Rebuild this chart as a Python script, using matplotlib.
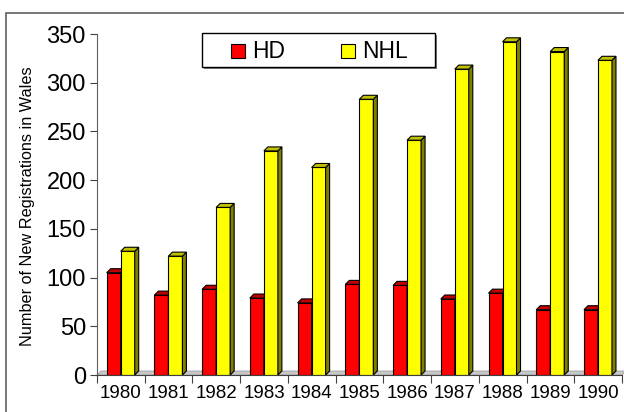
import matplotlib.pyplot as plt
from matplotlib.patches import Polygon, Rectangle
import numpy as np

plt.rcParams['font.family'] = ['Liberation Sans', 'DejaVu Sans']

years = ['1980', '1981', '1982', '1983', '1984', '1985', '1986', '1987', '1988', '1989', '1990']
hd = [105, 82, 88, 79, 74, 93, 92, 78, 84, 67, 67]
nhl = [127, 122, 172, 230, 213, 283, 241, 314, 342, 332, 323]

W, H = 624, 412
fig = plt.figure(figsize=(W / 100, H / 100), dpi=100)
fig.patch.set_facecolor('white')

# outer chart frame
fig.patches.append(Rectangle((6 / W, -0.1), 1.2, (H - 13) / H + 0.1, transform=fig.transFigure,
                             fill=False, edgecolor='#606060', lw=1.2))

x0, x1, y0, y1 = 97, 622, 375, 34
ax = fig.add_axes([x0 / W, (H - y0) / H, (x1 - x0) / W, (y0 - y1) / H])
ax.set_xlim(0, 11)
ax.set_ylim(0, 350)
ax.patch.set_alpha(0)

# depth of the 3-d effect, in data units
px_x = 11 / (x1 - x0)
px_y = 350 / (y0 - y1)
dx, dy = 4 * px_x, 4 * px_y

# floor
ax.add_patch(Polygon([(0, 0), (dx, dy), (11 + dx, dy), (11, 0)], closed=True,
                     facecolor='#c8c8c8', edgecolor='#a0a0a0', lw=0.6, clip_on=False, zorder=1))

bw = 14 * px_x
start = 9.7 * px_x
series = [(hd, '#ff0000', '#800000', '#c00000'), (nhl, '#ffff00', '#808000', '#c0c000')]
for i in range(len(years)):
    for k, (vals, front, side, top) in enumerate(series):
        left = i + start + k * bw
        v = vals[i]
        z = 3 + k * 3
        ax.bar(left, v, width=bw, align='edge', color=front, edgecolor='black', lw=0.8, zorder=z)
        ax.add_patch(Polygon([(left + bw, 0), (left + bw + dx, dy), (left + bw + dx, v + dy), (left + bw, v)],
                             closed=True, facecolor=side, edgecolor='black', lw=0.8, zorder=z + 1))
        ax.add_patch(Polygon([(left, v), (left + dx, v + dy), (left + bw + dx, v + dy), (left + bw, v)],
                             closed=True, facecolor=top, edgecolor='black', lw=0.8, zorder=z + 2))

for s in ['top', 'right']:
    ax.spines[s].set_visible(False)
ax.spines['left'].set_color('#606060')
ax.spines['bottom'].set_color('#404040')
ax.spines['bottom'].set_zorder(20)

ax.set_yticks(np.arange(0, 351, 50))
ax.tick_params(axis='y', labelsize=17, length=5, color='#404040', pad=3)
ax.set_xticks(np.arange(0, 12))
ax.set_xticklabels([])
ax.set_xticks(np.arange(0.5, 11), minor=True)
ax.set_xticklabels(years, minor=True)
ax.tick_params(axis='x', which='major', length=6, color='#404040')
ax.tick_params(axis='x', which='minor', length=0, labelsize=13.5, pad=7)

fig.text(28 / W, (H - 206) / H, 'Number of New Registrations in Wales', fontsize=11.7,
         rotation=90, ha='center', va='center')

# legend box
lx0, ly0, lx1, ly1 = 202, 33, 435, 67
fig.patches.append(Rectangle(((lx0 + 2) / W, (H - ly1 - 2) / H), (lx1 - lx0) / W, (ly1 - ly0) / H,
                             transform=fig.transFigure, facecolor='#808080', edgecolor='none', zorder=30))
fig.patches.append(Rectangle((lx0 / W, (H - ly1) / H), (lx1 - lx0) / W, (ly1 - ly0) / H,
                             transform=fig.transFigure, facecolor='white', edgecolor='black', lw=1, zorder=31))
for name, color, mx in [('HD', '#ff0000', 231), ('NHL', '#ffff00', 341)]:
    fig.patches.append(Rectangle((mx / W, (H - 58) / H), 14 / W, 14 / H, transform=fig.transFigure,
                                 facecolor=color, edgecolor='black', lw=0.8, zorder=32))
    fig.text((mx + 21) / W, (H - 51) / H, name, fontsize=16.5, va='center', ha='left', zorder=33)

fig.savefig('out.png', dpi=100)
